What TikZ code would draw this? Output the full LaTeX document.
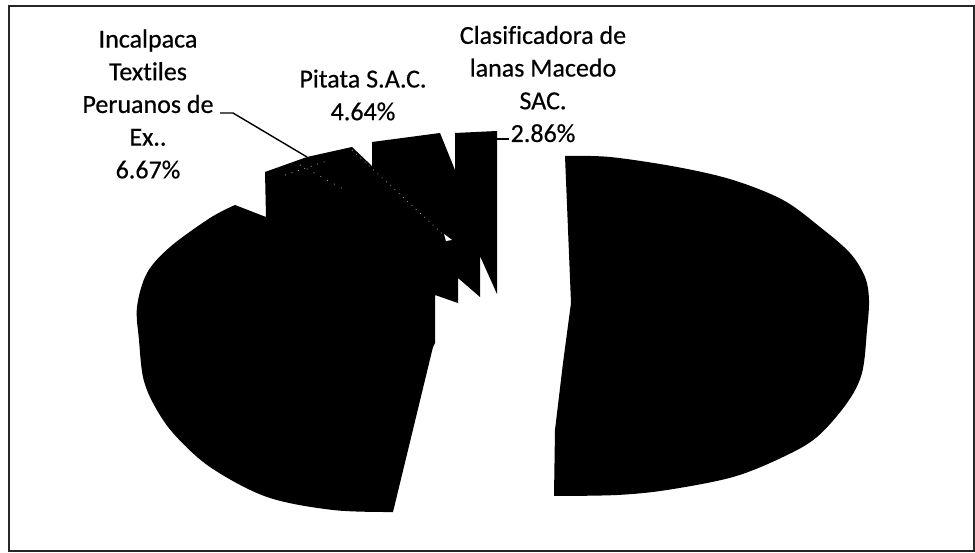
\documentclass[tikz,border=0pt]{standalone}
\usepackage{fontspec}
\setmainfont{Carlito}[Ligatures=NoCommon,FakeBold=0.5]
\begin{document}
\begin{tikzpicture}[x=1pt,y=-1pt,
  lbl/.style={align=center,inner sep=0pt,font=\fontsize{26}{32.7}\selectfont},
  leader/.style={line width=1.4pt,black},
  slice/.style={fill=black}]
\useasboundingbox (0,0) rectangle (975,553);
\draw[line width=1.5pt,black!85] (9,6) rectangle (974,551);
% big right slice (exploded)
\fill[slice] plot[smooth,tension=0.55] coordinates {(565,156) (610,157) (677,167) (733,180) (783,200) (820,227) (850,253) (865,277) (869,300) (867,330) (862,373) (847,403) (817,437) (783,457) (733,477) (667,490) (617,495) (554,496)} -- (555,430) -- (563,363) -- (571,303) -- cycle;
% left silhouette: large slice plus the small top slices
\fill[slice] (393,512) -- (433,347) -- (435,343) -- (435,295) -- (458,303) -- (458,278) -- (480,297) -- (480,256) -- (497,294) -- (497,131) -- (455,133) -- (455,170) -- (440,133) -- (372,142) -- (372,166) -- (352,147) -- (307,157) -- (265,172) -- (266,217) -- (235,205)
  plot[smooth,tension=0.55] coordinates {(235,205) (210,218) (170,247) (147,273) (137,307) (139,340) (143,377) (153,403) (173,433) (210,467) (267,497) (333,510) (393,512)} -- cycle;
% speckled top face of the Incalpaca slice
\draw[gray!70,line width=0.8pt,dash pattern=on 0.8pt off 5pt] (352,150) -- (447,238);
\draw[gray!60,line width=0.8pt,dash pattern=on 0.8pt off 7pt] (300,165) -- (345,190);
\draw[gray!60,line width=0.8pt,dash pattern=on 0.8pt off 6pt] (285,175) -- (330,160);
\fill[white] (444,234) -- (452,240) -- (446,241) -- cycle;
% labels
\node[lbl] (inc) at (148,104) {Incalpaca\\Textiles\\Peruanos de\\Ex..\\6.67\%};
\node[lbl] (pit) at (363,95) {Pitata S.A.C.\\4.64\%};
\node[lbl] (cla) at (543,84) {Clasificadora de\\lanas Macedo\\SAC.\\2.86\%};
% leaders
\coordinate (incA) at (220,113);
\coordinate (incB) at (233,113);
\coordinate (incC) at (307,157);
\draw[leader] (incA) -- (incB) -- (incC);
\coordinate (claA) at (497,139);
\coordinate (claB) at (509,139);
\draw[leader] (claA) -- (claB);
\end{tikzpicture}
\end{document}
